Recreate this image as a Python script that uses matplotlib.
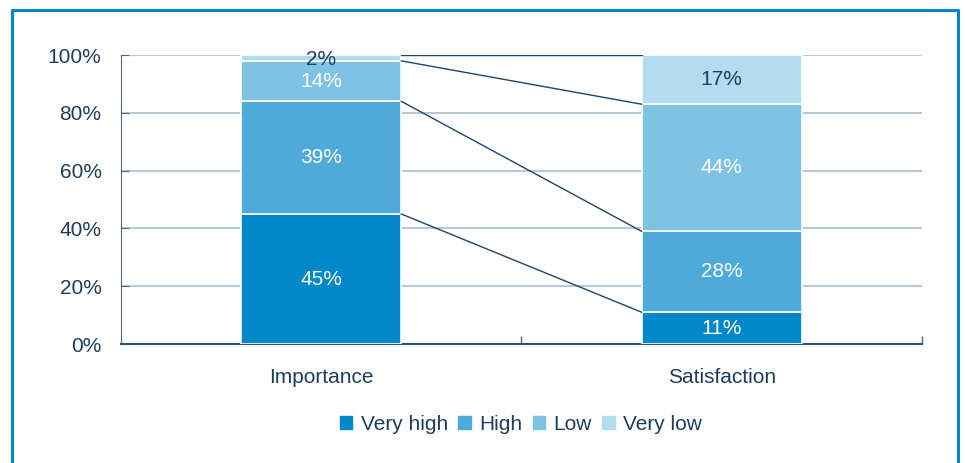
import numpy as np
import matplotlib
matplotlib.use('Agg')
import matplotlib.pyplot as plt
from matplotlib.patches import Rectangle
from matplotlib.lines import Line2D

categories = ['Importance', 'Satisfaction']
levels = ['Very high', 'High', 'Low', 'Very low']
importance = [45, 39, 14, 2]
satisfaction = [11, 28, 44, 17]
colors = ['#0088c9', '#4eaad9', '#7fc3e4', '#b3dcee']
label_colors = ['white', 'white', 'white', '#1d3d5e']

plt.rcParams['font.family'] = ['Liberation Sans', 'DejaVu Sans']
text_col = '#1d3d5e'
fs = 15

fig = plt.figure(figsize=(9.65, 4.63), dpi=100)
ax = fig.add_axes([0.1254, 0.257, 0.830, 0.624])

data = np.array([importance, satisfaction]).T
x = np.arange(len(categories))
width = 0.4
bottoms = np.zeros(len(categories))
for i, lvl in enumerate(levels):
    ax.bar(x, data[i], width, bottom=bottoms, color=colors[i],
           edgecolor='white', linewidth=1.2, label=lvl, zorder=3)
    for xi, v, b in zip(x, data[i], bottoms):
        y = b + v / 2
        if v < 5:
            y = b + v / 2 - 0.6
        ax.text(xi, y, f'{v}%', ha='center', va='center', fontsize=fs,
                color=label_colors[i], zorder=5)
    bottoms += data[i]

# connectors between cumulative boundaries of the two bars
cum_imp = np.cumsum(importance)
cum_sat = np.cumsum(satisfaction)
for a, b in zip(cum_imp, cum_sat):
    ax.plot([x[0] + width / 2, x[1] - width / 2], [a, b], color='#1f4569',
            lw=1.0, zorder=4)

ax.set_xlim(-0.5, 1.5)
ax.set_ylim(0, 100)
ax.set_yticks(np.arange(0, 101, 20))
ax.set_yticklabels([f'{t}%' for t in range(0, 101, 20)])
ax.set_xticks(x)
ax.set_xticklabels(categories)
ax.set_xticks([0.5, 1.5], minor=True)
ax.tick_params(axis='x', which='major', length=0, pad=17, labelsize=fs,
               labelcolor=text_col)
ax.tick_params(axis='x', which='minor', direction='in', length=6,
               color='#4a6a88', width=1)
ax.tick_params(axis='y', direction='in', length=6, color='#4a6a88',
               labelsize=fs, labelcolor=text_col, pad=14)

ax.yaxis.grid(True, color='#b9c9d7', lw=1.5, zorder=0)
ax.set_axisbelow(True)
for s in ['top', 'right']:
    ax.spines[s].set_visible(False)
ax.spines['left'].set_color('#4a6a88')
ax.spines['bottom'].set_color('#2e5272')
ax.spines['bottom'].set_linewidth(1.5)

handles = [Rectangle((0, 0), 1, 1, color=c) for c in colors]
fig.legend(handles, levels, loc='center', bbox_to_anchor=(0.54, 0.084),
           ncol=4, frameon=False, fontsize=fs, handlelength=0.6,
           handleheight=0.6, handletextpad=0.4, columnspacing=0.5,
           labelcolor=text_col)

# outer frame, open at the bottom
fx0, fx1, fy1 = 11.5 / 965, 957.5 / 965, 1 - 9.5 / 463
fig.add_artist(Line2D([fx0, fx0, fx1, fx1], [0, fy1, fy1, 0],
                      transform=fig.transFigure, color='#0088cc', lw=2.2))

fig.savefig('out.png', dpi=100)
